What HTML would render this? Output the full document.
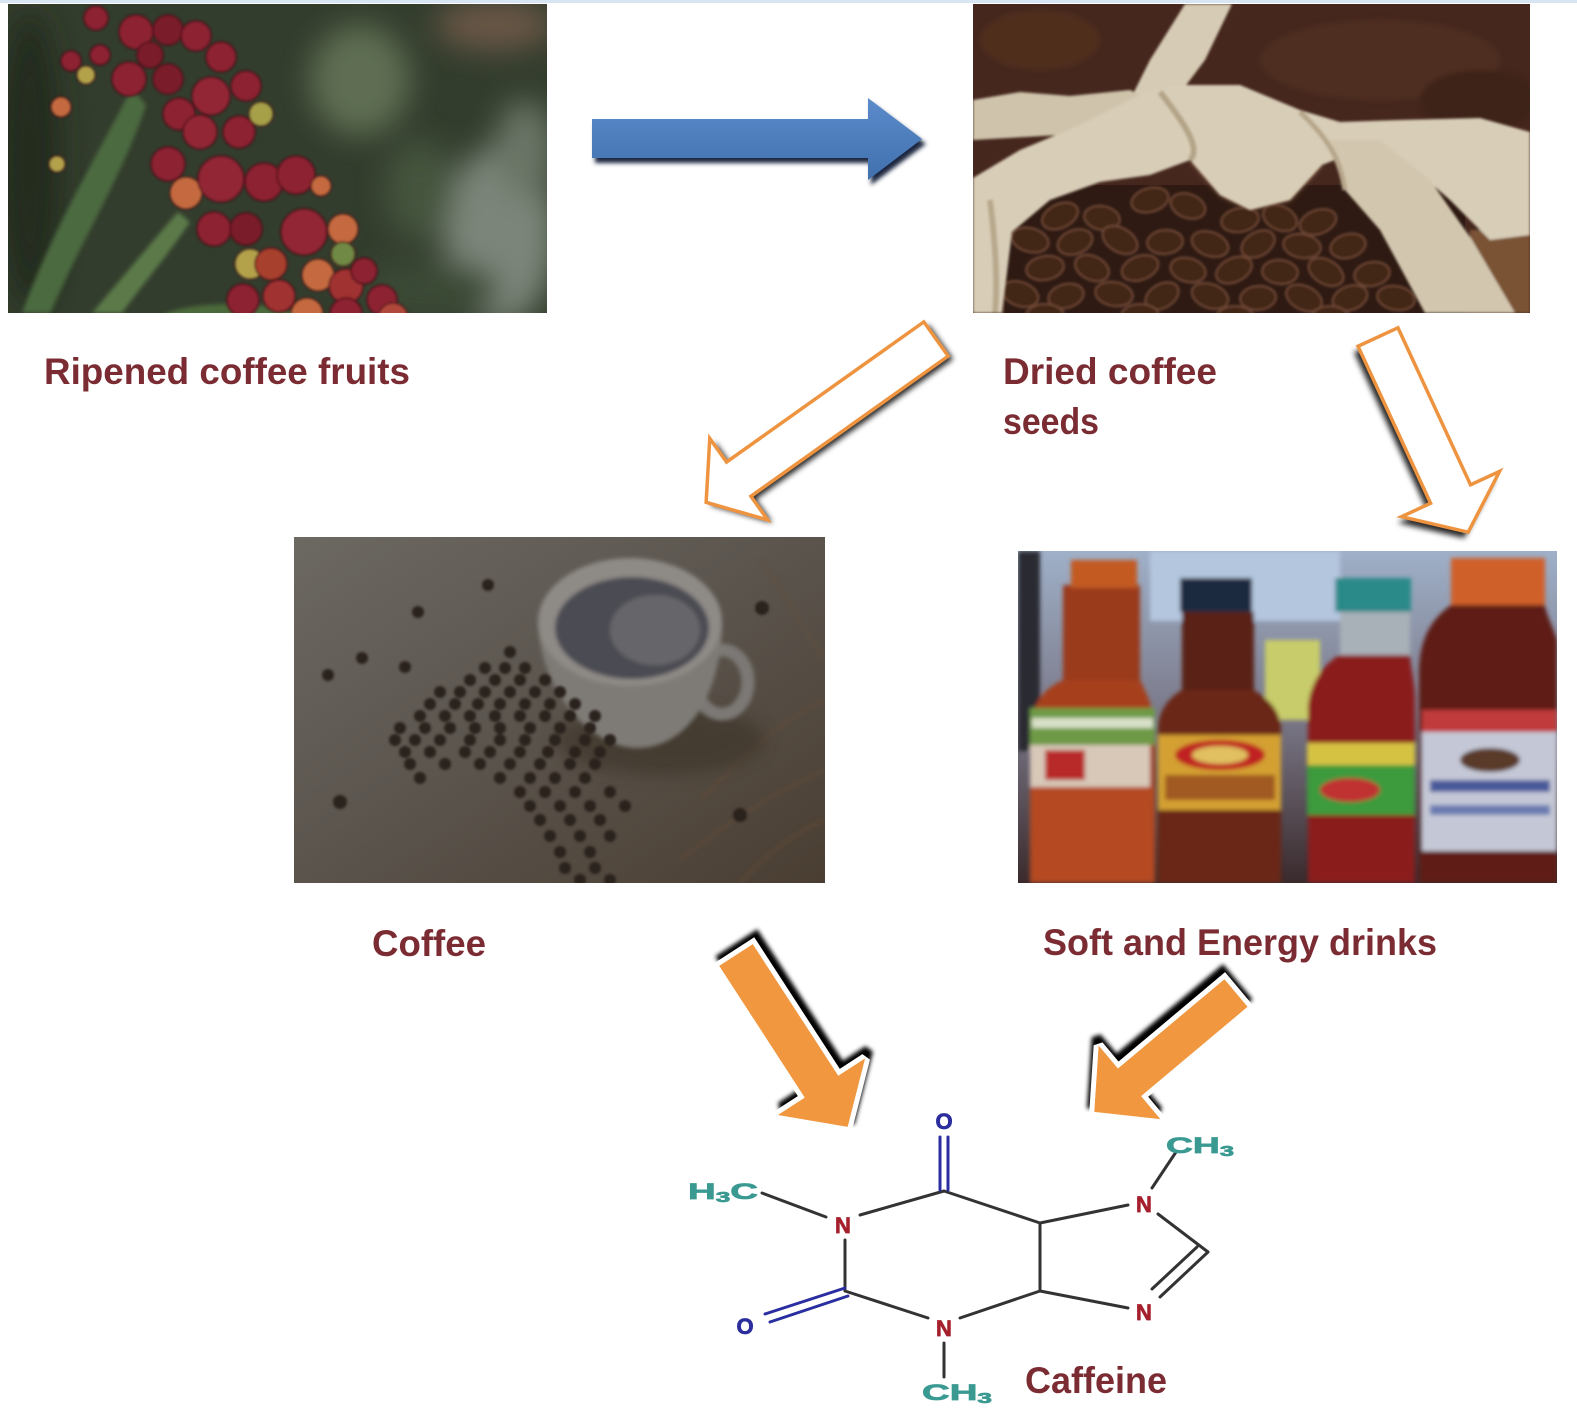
<!DOCTYPE html>
<html><head><meta charset="utf-8"><style>
html,body{margin:0;padding:0;background:#fff;}
svg{display:block;}
</style></head><body>
<svg width="1577" height="1410" viewBox="0 0 1577 1410" xmlns="http://www.w3.org/2000/svg">
<defs>
<filter id="b1" x="-20%" y="-20%" width="140%" height="140%"><feGaussianBlur stdDeviation="1.2"/></filter>
<filter id="b2" x="-20%" y="-20%" width="140%" height="140%"><feGaussianBlur stdDeviation="2.2"/></filter>
<filter id="b3" x="-20%" y="-20%" width="140%" height="140%"><feGaussianBlur stdDeviation="3"/></filter>
<filter id="b8" x="-50%" y="-50%" width="200%" height="200%"><feGaussianBlur stdDeviation="8"/></filter>
<filter id="b15" x="-50%" y="-50%" width="200%" height="200%"><feGaussianBlur stdDeviation="15"/></filter>
<clipPath id="c1"><rect x="8" y="4" width="539" height="309"/></clipPath>
<clipPath id="c2"><rect x="973" y="4" width="557" height="309"/></clipPath>
<clipPath id="c3"><rect x="294" y="537" width="531" height="346"/></clipPath>
<clipPath id="c4"><rect x="1018" y="551" width="539" height="332"/></clipPath>
<linearGradient id="g3" x1="0" y1="0" x2="1" y2="1">
<stop offset="0" stop-color="#6c6862"/><stop offset="0.45" stop-color="#5c564f"/><stop offset="1" stop-color="#4a3e32"/>
</linearGradient>
<linearGradient id="g4" x1="0" y1="0" x2="0" y2="1">
<stop offset="0" stop-color="#9fb0c8"/><stop offset="0.5" stop-color="#7a7888"/><stop offset="1" stop-color="#3a2a2c"/>
</linearGradient>
<linearGradient id="gb" x1="0" y1="0" x2="0" y2="1">
<stop offset="0" stop-color="#5b8bcb"/><stop offset="1" stop-color="#4170ad"/>
</linearGradient>
</defs>

<rect x="0" y="0" width="1577" height="1410" fill="#fff"/>
<rect x="0" y="0" width="1577" height="3" fill="#d8e5f3"/>

<!-- PHOTO 1 -->
<g clip-path="url(#c1)">
<rect x="8" y="4" width="539" height="309" fill="#333d2d"/>
<g filter="url(#b15)">
<ellipse cx="500" cy="235" rx="55" ry="90" fill="#7c8579"/>
<ellipse cx="525" cy="150" rx="30" ry="50" fill="#6a7466"/>
<ellipse cx="360" cy="80" rx="50" ry="55" fill="#5f6e52"/>
<ellipse cx="495" cy="25" rx="60" ry="25" fill="#6b5646"/>
<ellipse cx="430" cy="290" rx="70" ry="30" fill="#3a4836"/>
<ellipse cx="30" cy="160" rx="30" ry="150" fill="#222b1f"/>
<ellipse cx="420" cy="190" rx="35" ry="50" fill="#45553e"/>
</g>
<g filter="url(#b2)">
<path d="M132,88 C100,150 52,230 22,313 L50,313 C82,240 125,170 146,105 Z" fill="#4b6a3f"/>
<path d="M178,212 C145,250 112,290 92,313 L122,313 C142,285 168,255 190,222 Z" fill="#5b7a4a"/>
<ellipse cx="232" cy="322" rx="75" ry="18" fill="#4b6b3b"/>
</g>
<g filter="url(#b1)" stroke="#4e1018" stroke-width="1.5">
<circle cx="96" cy="18" r="12" fill="#8c2231"/>
<circle cx="136" cy="32" r="17" fill="#8c2231"/>
<circle cx="168" cy="30" r="15" fill="#7a1c2a"/>
<circle cx="196" cy="36" r="15" fill="#8c2231"/>
<circle cx="221" cy="57" r="15" fill="#8c2231"/>
<circle cx="246" cy="86" r="15" fill="#8c2231"/>
<circle cx="211" cy="96" r="19" fill="#922536"/>
<circle cx="168" cy="79" r="15" fill="#7a1c2a"/>
<circle cx="129" cy="79" r="17" fill="#8c2231"/>
<circle cx="100" cy="55" r="10" fill="#8c2231"/>
<circle cx="150" cy="55" r="13" fill="#7a1c2a"/>
<circle cx="71" cy="61" r="10" fill="#8c2231"/>
<circle cx="86" cy="75" r="9" fill="#b4a24c"/>
<circle cx="61" cy="107" r="10" fill="#c56a40"/>
<circle cx="179" cy="114" r="16" fill="#8c2231"/>
<circle cx="200" cy="132" r="17" fill="#922536"/>
<circle cx="239" cy="132" r="16" fill="#8c2231"/>
<circle cx="168" cy="164" r="17" fill="#8c2231"/>
<circle cx="186" cy="193" r="16" fill="#c56a40"/>
<circle cx="221" cy="179" r="23" fill="#922536"/>
<circle cx="264" cy="182" r="19" fill="#8c2231"/>
<circle cx="296" cy="175" r="19" fill="#8c2231"/>
<circle cx="214" cy="229" r="17" fill="#8c2231"/>
<circle cx="246" cy="229" r="16" fill="#7a1c2a"/>
<circle cx="304" cy="232" r="23" fill="#922536"/>
<circle cx="343" cy="229" r="15" fill="#c56a40"/>
<circle cx="343" cy="254" r="12" fill="#6f8a45"/>
<circle cx="250" cy="264" r="15" fill="#b4a24c"/>
<circle cx="271" cy="264" r="16" fill="#a8402e"/>
<circle cx="318" cy="275" r="16" fill="#c56a40"/>
<circle cx="346" cy="286" r="17" fill="#a03030"/>
<circle cx="364" cy="271" r="13" fill="#8c2231"/>
<circle cx="382" cy="300" r="15" fill="#8c2231"/>
<circle cx="243" cy="300" r="16" fill="#8c2231"/>
<circle cx="279" cy="296" r="16" fill="#a03030"/>
<circle cx="307" cy="314" r="16" fill="#c56a40"/>
<circle cx="346" cy="314" r="16" fill="#8c2231"/>
<circle cx="393" cy="318" r="15" fill="#b04a3a"/>
<circle cx="57" cy="164" r="8" fill="#b4a24c"/>
<circle cx="261" cy="114" r="12" fill="#a6a04a"/>
<circle cx="321" cy="186" r="10" fill="#c56a40"/>
</g>
</g>

<!-- PHOTO 2 -->
<g clip-path="url(#c2)">
<rect x="973" y="4" width="557" height="309" fill="#45271e"/>
<g filter="url(#b3)" opacity="0.7">
<ellipse cx="1040" cy="40" rx="60" ry="30" fill="#55311f"/>
<ellipse cx="1380" cy="60" rx="120" ry="40" fill="#533024"/>
<ellipse cx="1480" cy="100" rx="60" ry="30" fill="#3a2019"/>
</g>
<rect x="1005" y="185" width="460" height="128" fill="#2e1a12"/>
<polygon points="1190,160 1220,195 1250,210 1290,200 1322,165 1300,148 1250,148" fill="#8a6448" filter="url(#b3)"/>
<g fill="#432819" stroke="#6e4636" stroke-width="2" filter="url(#b1)">
<ellipse cx="1150" cy="200" rx="19" ry="12" transform="rotate(-15 1150 200)"/><ellipse cx="1188" cy="206" rx="18" ry="12" transform="rotate(20 1188 206)"/>
<ellipse cx="1060" cy="216" rx="19" ry="12" transform="rotate(-25 1060 216)"/><ellipse cx="1102" cy="218" rx="18" ry="12" transform="rotate(10 1102 218)"/><ellipse cx="1240" cy="220" rx="19" ry="12" transform="rotate(-10 1240 220)"/><ellipse cx="1280" cy="218" rx="18" ry="12" transform="rotate(25 1280 218)"/><ellipse cx="1318" cy="222" rx="19" ry="12" transform="rotate(-20 1318 222)"/>
<ellipse cx="1030" cy="240" rx="19" ry="12" transform="rotate(15 1030 240)"/><ellipse cx="1075" cy="242" rx="18" ry="12" transform="rotate(-20 1075 242)"/><ellipse cx="1120" cy="240" rx="19" ry="12" transform="rotate(30 1120 240)"/><ellipse cx="1165" cy="242" rx="18" ry="12" transform="rotate(-5 1165 242)"/><ellipse cx="1210" cy="244" rx="19" ry="12" transform="rotate(20 1210 244)"/><ellipse cx="1258" cy="244" rx="18" ry="12" transform="rotate(-30 1258 244)"/><ellipse cx="1302" cy="246" rx="19" ry="12" transform="rotate(10 1302 246)"/><ellipse cx="1348" cy="246" rx="18" ry="12" transform="rotate(-15 1348 246)"/>
<ellipse cx="1045" cy="268" rx="19" ry="12" transform="rotate(-10 1045 268)"/><ellipse cx="1092" cy="268" rx="18" ry="12" transform="rotate(25 1092 268)"/><ellipse cx="1140" cy="268" rx="19" ry="12" transform="rotate(-20 1140 268)"/><ellipse cx="1188" cy="270" rx="18" ry="12" transform="rotate(15 1188 270)"/><ellipse cx="1234" cy="270" rx="19" ry="12" transform="rotate(-25 1234 270)"/><ellipse cx="1280" cy="272" rx="18" ry="12" transform="rotate(5 1280 272)"/><ellipse cx="1326" cy="272" rx="19" ry="12" transform="rotate(30 1326 272)"/><ellipse cx="1372" cy="274" rx="18" ry="12" transform="rotate(-10 1372 274)"/>
<ellipse cx="1020" cy="294" rx="19" ry="12" transform="rotate(20 1020 294)"/><ellipse cx="1066" cy="296" rx="18" ry="12" transform="rotate(-15 1066 296)"/><ellipse cx="1114" cy="294" rx="19" ry="12" transform="rotate(10 1114 294)"/><ellipse cx="1162" cy="296" rx="18" ry="12" transform="rotate(-30 1162 296)"/><ellipse cx="1210" cy="296" rx="19" ry="12" transform="rotate(20 1210 296)"/><ellipse cx="1258" cy="298" rx="18" ry="12" transform="rotate(-5 1258 298)"/><ellipse cx="1304" cy="298" rx="19" ry="12" transform="rotate(25 1304 298)"/><ellipse cx="1350" cy="298" rx="18" ry="12" transform="rotate(-20 1350 298)"/><ellipse cx="1396" cy="298" rx="19" ry="12" transform="rotate(10 1396 298)"/>
<ellipse cx="1045" cy="316" rx="19" ry="12"/><ellipse cx="1140" cy="316" rx="19" ry="12"/><ellipse cx="1235" cy="318" rx="19" ry="12"/><ellipse cx="1330" cy="318" rx="19" ry="12"/>
</g>
<g filter="url(#b1)">
<rect x="1470" y="230" width="60" height="83" fill="#7a5236"/>
<polygon points="1185,4 1232,4 1205,60 1175,100 1130,100 1150,60" fill="#d6cbb4"/>
<polygon points="973,100 1020,92 1070,96 1130,90 1150,100 1120,125 1060,135 973,140" fill="#cfc3ab"/>
<polygon points="973,178 1020,150 1080,125 1140,95 1170,85 1240,85 1300,110 1340,122 1400,120 1480,118 1530,132 1530,235 1490,240 1450,200 1410,165 1360,150 1322,165 1290,200 1250,210 1220,195 1190,160 1150,175 1100,182 1050,200 1012,232 1002,313 973,313" fill="#d8cdb7"/>
<polygon points="1330,140 1380,140 1430,180 1472,240 1515,313 1425,313 1380,230 1345,190" fill="#d2c6ae"/>
<path d="M1160,92 C1190,130 1200,150 1190,160" stroke="#b4a488" stroke-width="6" fill="none"/>
<path d="M1300,112 C1330,140 1340,160 1345,190" stroke="#b6a68a" stroke-width="5" fill="none"/>
<path d="M990,200 C995,240 998,280 995,313" stroke="#b8a88c" stroke-width="6" fill="none"/>
</g>
</g>

<!-- PHOTO 3 -->
<g clip-path="url(#c3)">
<rect x="294" y="537" width="531" height="346" fill="url(#g3)"/>
<g stroke="#6a5038" stroke-width="3" opacity="0.45" fill="none" filter="url(#b2)">
<path d="M700,800 C740,760 780,720 825,700"/>
<path d="M680,860 C730,820 780,790 825,770"/>
<path d="M740,883 C770,850 800,830 825,820"/>
<path d="M760,560 C790,600 810,640 825,660"/>
</g>
<ellipse cx="660" cy="740" rx="105" ry="35" fill="#3a3028" opacity="0.6" filter="url(#b8)"/>
<g filter="url(#b2)">
<ellipse cx="722" cy="682" rx="26" ry="32" fill="none" stroke="#7c7874" stroke-width="13"/>
<path d="M538,622 C540,690 590,748 637,748 C690,748 722,690 722,622 Z" fill="#7e7a76"/>
<ellipse cx="630" cy="622" rx="92" ry="64" fill="#8e8a86"/>
<ellipse cx="632" cy="628" rx="77" ry="51" fill="#4c4c52"/>
<ellipse cx="655" cy="630" rx="45" ry="35" fill="#66666a"/>
</g>
<g fill="#2c221b" filter="url(#b1)">
<circle cx="488" cy="585" r="6"/><circle cx="418" cy="612" r="6"/><circle cx="362" cy="658" r="6"/><circle cx="328" cy="675" r="6"/><circle cx="405" cy="667" r="6"/><circle cx="510" cy="652" r="6"/><circle cx="762" cy="608" r="7"/><circle cx="340" cy="802" r="7"/><circle cx="740" cy="815" r="7"/><circle cx="595" cy="900" r="7"/>
<circle cx="485" cy="668" r="6"/><circle cx="505" cy="668" r="6"/><circle cx="525" cy="668" r="6"/>
<circle cx="470" cy="680" r="6"/><circle cx="495" cy="680" r="6"/><circle cx="520" cy="680" r="6"/><circle cx="545" cy="680" r="6"/>
<circle cx="440" cy="692" r="6"/><circle cx="460" cy="692" r="6"/><circle cx="485" cy="692" r="6"/><circle cx="510" cy="692" r="6"/><circle cx="535" cy="692" r="6"/><circle cx="560" cy="692" r="6"/>
<circle cx="430" cy="704" r="6"/><circle cx="455" cy="704" r="6"/><circle cx="478" cy="704" r="6"/><circle cx="500" cy="704" r="6"/><circle cx="525" cy="704" r="6"/><circle cx="550" cy="704" r="6"/><circle cx="575" cy="704" r="6"/>
<circle cx="420" cy="716" r="6"/><circle cx="445" cy="716" r="6"/><circle cx="470" cy="716" r="6"/><circle cx="495" cy="716" r="6"/><circle cx="520" cy="716" r="6"/><circle cx="545" cy="716" r="6"/><circle cx="570" cy="716" r="6"/><circle cx="595" cy="716" r="6"/>
<circle cx="400" cy="728" r="6"/><circle cx="425" cy="728" r="6"/><circle cx="450" cy="728" r="6"/><circle cx="475" cy="728" r="6"/><circle cx="500" cy="728" r="6"/><circle cx="530" cy="728" r="6"/><circle cx="560" cy="728" r="6"/><circle cx="590" cy="728" r="6"/>
<circle cx="395" cy="740" r="6"/><circle cx="415" cy="740" r="6"/><circle cx="440" cy="740" r="6"/><circle cx="470" cy="740" r="6"/><circle cx="500" cy="740" r="6"/><circle cx="525" cy="740" r="6"/><circle cx="555" cy="740" r="6"/><circle cx="585" cy="740" r="6"/><circle cx="610" cy="740" r="6"/>
<circle cx="405" cy="752" r="6"/><circle cx="430" cy="752" r="6"/><circle cx="465" cy="752" r="6"/><circle cx="490" cy="752" r="6"/><circle cx="520" cy="752" r="6"/><circle cx="548" cy="752" r="6"/><circle cx="575" cy="752" r="6"/><circle cx="600" cy="752" r="6"/>
<circle cx="410" cy="764" r="6"/><circle cx="445" cy="764" r="6"/><circle cx="480" cy="764" r="6"/><circle cx="510" cy="764" r="6"/><circle cx="540" cy="764" r="6"/><circle cx="570" cy="764" r="6"/><circle cx="595" cy="764" r="6"/>
<circle cx="420" cy="778" r="6"/><circle cx="500" cy="778" r="6"/><circle cx="530" cy="778" r="6"/><circle cx="555" cy="778" r="6"/><circle cx="585" cy="778" r="6"/>
<circle cx="520" cy="792" r="6"/><circle cx="545" cy="792" r="6"/><circle cx="575" cy="792" r="6"/><circle cx="610" cy="792" r="6"/>
<circle cx="530" cy="806" r="6"/><circle cx="560" cy="806" r="6"/><circle cx="590" cy="806" r="6"/><circle cx="625" cy="806" r="6"/>
<circle cx="540" cy="820" r="6"/><circle cx="570" cy="820" r="6"/><circle cx="600" cy="820" r="6"/>
<circle cx="550" cy="836" r="6"/><circle cx="580" cy="836" r="6"/><circle cx="610" cy="836" r="6"/>
<circle cx="560" cy="852" r="6"/><circle cx="590" cy="852" r="6"/>
<circle cx="565" cy="868" r="6"/><circle cx="595" cy="868" r="6"/>
<circle cx="580" cy="880" r="6"/><circle cx="610" cy="880" r="6"/>
</g>
</g>

<!-- PHOTO 4 -->
<g clip-path="url(#c4)">
<rect x="1018" y="551" width="539" height="332" fill="url(#g4)"/>
<g filter="url(#b2)">
<rect x="1150" y="551" width="190" height="70" fill="#b4c6de"/>
<rect x="1018" y="551" width="22" height="200" fill="#2a2a32"/>
<rect x="1265" y="640" width="55" height="80" fill="#c8cc6a"/>
<rect x="1063" y="585" width="77" height="110" fill="#9a3a1c"/>
<path d="M1063,680 C1040,690 1030,710 1030,730 L1030,883 L1155,883 L1155,730 C1155,710 1145,690 1140,680 Z" fill="#a63f1d"/>
<rect x="1071" y="560" width="66" height="28" fill="#c25a22"/>
<rect x="1030" y="708" width="125" height="37" fill="#6e9a44"/>
<rect x="1032" y="718" width="121" height="10" fill="#d8e0c8"/>
<rect x="1030" y="745" width="120" height="42" fill="#d8c8b8"/>
<rect x="1045" y="750" width="40" height="30" fill="#b82a2a"/>
<rect x="1030" y="787" width="125" height="96" fill="#b44a24"/>
<rect x="1180" y="578" width="72" height="34" fill="#1e2a40"/>
<rect x="1182" y="612" width="72" height="90" fill="#5a2418"/>
<path d="M1182,690 C1165,700 1158,715 1158,730 L1158,883 L1281,883 L1281,730 C1281,712 1270,700 1254,690 Z" fill="#6a2818"/>
<rect x="1158" y="735" width="123" height="75" fill="#d4a030"/>
<ellipse cx="1220" cy="755" rx="45" ry="15" fill="#c02424"/>
<ellipse cx="1220" cy="755" rx="28" ry="9" fill="#e0c060"/>
<rect x="1165" y="775" width="110" height="25" fill="#a05a20"/>
<rect x="1335" y="578" width="76" height="34" fill="#2a8a8a"/>
<rect x="1340" y="612" width="70" height="50" fill="#a8b0b8"/>
<path d="M1340,655 C1320,665 1308,690 1308,710 L1308,883 L1415,883 L1415,700 C1415,680 1410,665 1410,655 Z" fill="#8a1a1c"/>
<rect x="1307" y="743" width="108" height="72" fill="#3c9a3c"/>
<rect x="1307" y="743" width="108" height="22" fill="#d6c242"/>
<ellipse cx="1350" cy="790" rx="30" ry="12" fill="#c03030"/>
<rect x="1451" y="558" width="94" height="51" fill="#d0602a"/>
<path d="M1451,605 C1430,620 1420,640 1419,670 L1419,883 L1557,883 L1557,640 C1550,620 1545,610 1545,605 Z" fill="#5e1e12"/>
<rect x="1422" y="710" width="135" height="141" fill="#c4c8d6"/>
<rect x="1422" y="710" width="135" height="22" fill="#c03a3a"/>
<rect x="1430" y="780" width="120" height="12" fill="#4a5a9a"/>
<rect x="1430" y="805" width="120" height="10" fill="#6a7ab0"/>
<ellipse cx="1490" cy="760" rx="30" ry="12" fill="#5a3a2a"/>
</g>
</g>

<!-- ARROW 1 -->
<polygon points="595,124 871,124 871,103 926,144 871,185 871,163 595,163" fill="#1b2840" filter="url(#b2)"/>
<polygon points="592,119 868,119 868,98 922,139 868,180 868,158 592,158" fill="url(#gb)"/>

<!-- ARROW 2 -->
<g transform="translate(5,3)" filter="url(#b3)">
<g transform="translate(936,339) rotate(144.6)"><polygon points="0,-21 242,-21 242,-50 282,0 242,50 242,21 0,21" fill="#000" opacity="0.85"/></g>
</g>
<g transform="translate(936,339) rotate(144.6)"><polygon points="0,-21 242,-21 242,-50 282,0 242,50 242,21 0,21" fill="#fff" stroke="#ee9440" stroke-width="3.5"/></g>

<!-- ARROW 3 -->
<g transform="translate(-4,6)" filter="url(#b3)">
<g transform="translate(1378,337) rotate(65.2)"><polygon points="0,-22 173,-22 173,-54 215,0 173,54 173,22 0,22" fill="#000" opacity="0.85"/></g>
</g>
<g transform="translate(1378,337) rotate(65.2)"><polygon points="0,-22 173,-22 173,-54 215,0 173,54 173,22 0,22" fill="#fff" stroke="#ee9440" stroke-width="3.5"/></g>

<!-- ARROW 4 -->
<g transform="translate(3,-8)" filter="url(#b2)">
<g transform="translate(736,955) rotate(57)"><polygon points="0,-20 157,-20 157,-52 205,0 157,52 157,20 0,20" fill="#000" stroke="#000" stroke-width="10" stroke-miterlimit="2"/></g>
</g>
<g transform="translate(736,955) rotate(57)"><polygon points="0,-20 157,-20 157,-52 205,0 157,52 157,20 0,20" fill="#f0973f" stroke="#fff" stroke-width="10" stroke-miterlimit="2" paint-order="stroke"/></g>

<!-- ARROW 5 -->
<g transform="translate(-2,-8)" filter="url(#b2)">
<g transform="translate(1236,993) rotate(140)"><polygon points="0,-18 139,-18 139,-48 185,0 139,48 139,18 0,18" fill="#000" stroke="#000" stroke-width="10" stroke-miterlimit="2"/></g>
</g>
<g transform="translate(1236,993) rotate(140)"><polygon points="0,-18 139,-18 139,-48 185,0 139,48 139,18 0,18" fill="#f0973f" stroke="#fff" stroke-width="10" stroke-miterlimit="2" paint-order="stroke"/></g>

<!-- LABELS -->
<g font-family="'Liberation Sans', Arial, sans-serif" font-weight="bold" font-size="37" fill="#7b2c33">
<text x="44" y="384" textLength="366" lengthAdjust="spacingAndGlyphs">Ripened coffee fruits</text>
<text x="1003" y="384" textLength="214" lengthAdjust="spacingAndGlyphs">Dried coffee</text>
<text x="1003" y="434" textLength="96" lengthAdjust="spacingAndGlyphs">seeds</text>
<text x="372" y="956" textLength="114" lengthAdjust="spacingAndGlyphs">Coffee</text>
<text x="1043" y="955" textLength="394" lengthAdjust="spacingAndGlyphs">Soft and Energy drinks</text>
<text x="1025" y="1393" textLength="142" lengthAdjust="spacingAndGlyphs">Caffeine</text>
</g>

<!-- CAFFEINE -->
<g stroke="#333" stroke-width="3" stroke-linecap="round" fill="none">
<line x1="762" y1="1193" x2="826" y2="1217"/>
<line x1="860" y1="1215" x2="944" y2="1191"/>
<line x1="944" y1="1191" x2="1040" y2="1223"/>
<line x1="1040" y1="1223" x2="1040" y2="1291"/>
<line x1="1040" y1="1223" x2="1128" y2="1205"/>
<line x1="1152" y1="1188" x2="1176" y2="1152"/>
<line x1="1158" y1="1214" x2="1208" y2="1252"/>
<line x1="1208" y1="1252" x2="1160" y2="1297"/>
<line x1="1197" y1="1247" x2="1152" y2="1289"/>
<line x1="1040" y1="1291" x2="1128" y2="1308"/>
<line x1="960" y1="1318" x2="1040" y2="1291"/>
<line x1="845" y1="1291" x2="928" y2="1318"/>
<line x1="845" y1="1240" x2="845" y2="1291"/>
<line x1="944" y1="1343" x2="944" y2="1377"/>
</g>
<g stroke="#2a2ea0" stroke-width="3" stroke-linecap="round" fill="none">
<line x1="940" y1="1137" x2="940" y2="1190"/>
<line x1="948" y1="1137" x2="948" y2="1190"/>
<line x1="845" y1="1288" x2="765" y2="1314"/>
<line x1="848" y1="1296" x2="770" y2="1322"/>
</g>
<g font-family="'Liberation Sans', Arial, sans-serif" font-weight="bold" font-size="22" stroke-width="0.7">
<text x="944" y="1129" text-anchor="middle" fill="#2b2e9c" stroke="#2b2e9c">O</text>
<text x="745" y="1334" text-anchor="middle" fill="#2b2e9c" stroke="#2b2e9c">O</text>
<text x="843" y="1233" text-anchor="middle" fill="#a51f2c" stroke="#a51f2c">N</text>
<text x="944" y="1336" text-anchor="middle" fill="#a51f2c" stroke="#a51f2c">N</text>
<text x="1144" y="1212" text-anchor="middle" fill="#a51f2c" stroke="#a51f2c">N</text>
<text x="1144" y="1320" text-anchor="middle" fill="#a51f2c" stroke="#a51f2c">N</text>
<text x="688" y="1199" fill="#3a9a92" stroke="#3a9a92" textLength="70" lengthAdjust="spacingAndGlyphs">H<tspan font-size="15" dy="3">3</tspan><tspan dy="-3">C</tspan></text>
<text x="1166" y="1153" fill="#3a9a92" stroke="#3a9a92" textLength="68" lengthAdjust="spacingAndGlyphs">CH<tspan font-size="15" dy="3">3</tspan></text>
<text x="922" y="1400" fill="#3a9a92" stroke="#3a9a92" textLength="70" lengthAdjust="spacingAndGlyphs">CH<tspan font-size="15" dy="3">3</tspan></text>
</g>
</svg>
</body></html>
